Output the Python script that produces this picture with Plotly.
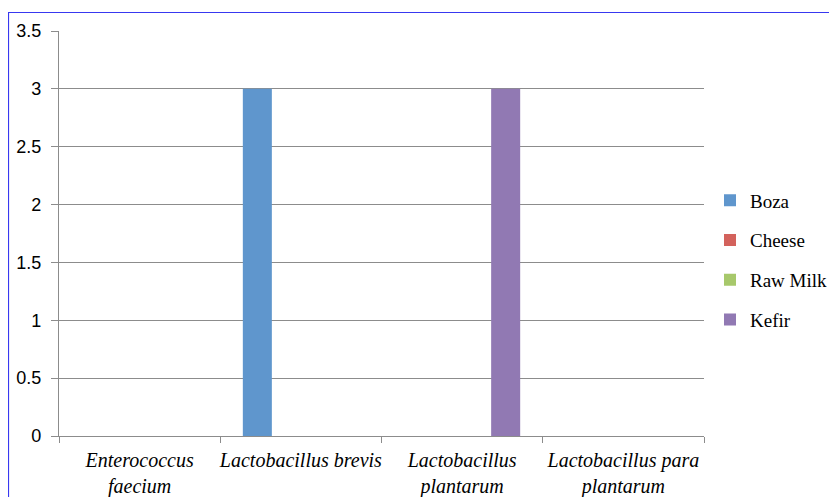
import plotly.graph_objects as go

categories = ["Enterococcus<br>faecium", "Lactobacillus brevis", "Lactobacillus<br>plantarum", "Lactobacillus para<br>plantarum"]
series_names = ["Boza", "Cheese", "Raw Milk", "Kefir"]
boza = [0, 3, 0, 0]
cheese = [0, 0, 0, 0]
raw_milk = [0, 0, 0, 0]
kefir = [0, 0, 3, 0]
colors = ["#5F96CD", "#D3625C", "#A7C86B", "#9179B3"]

OFF = 8  # page body margin
W, H = 837 - OFF, 497 - OFF
L, T = 59 - OFF, 31 - OFF
R = W - (704 - OFF)
B = H - (436 - OFF)
pw, ph = W - L - R, H - T - B

fig = go.Figure()
for name, vals, col in zip(series_names, [boza, cheese, raw_milk, kefir], colors):
    fig.add_trace(go.Bar(x=categories, y=vals, name=name, marker_color=col,
                         marker_line_width=0, legendgroup=name))

def px_x(x):
    return (x - OFF - L) / pw

def px_y(y):
    return 1 - (y - OFF - T) / ph

fig.add_shape(type="rect", xref="paper", yref="paper",
              x0=px_x(8.5), x1=px_x(845), y0=px_y(12.5), y1=px_y(505),
              line=dict(color="#3838F0", width=1.2), fillcolor="rgba(0,0,0,0)", layer="below")

fig.update_layout(
    width=W, height=H,
    margin=dict(l=L, r=R, t=T, b=B, pad=0, autoexpand=False),
    paper_bgcolor="white", plot_bgcolor="white",
    barmode="group", bargap=0.28, bargroupgap=0,
    showlegend=True,
    legend=dict(x=px_x(710), xanchor="left", y=px_y(260), yanchor="middle",
                font=dict(family="Liberation Serif", size=19, color="black"),
                tracegroupgap=12, itemsizing="constant", traceorder="grouped",
                bgcolor="rgba(0,0,0,0)"),
    xaxis=dict(showgrid=False, showline=True, linecolor="#8C8C8C", linewidth=1.2,
               ticks="outside", tickson="boundaries", ticklen=6, tickcolor="#8C8C8C",
               tickfont=dict(family="Liberation Serif", size=20, color="black", style="italic"),
               tickangle=0, automargin=False, ticklabelstandoff=6,
               range=[-0.5, 3.5]),
    yaxis=dict(range=[0, 3.5], dtick=0.5, tick0=0, showgrid=True, gridcolor="#8C8C8C",
               gridwidth=1, showline=True, linecolor="#8C8C8C", linewidth=1.2,
               ticks="outside", ticklen=7, tickcolor="#8C8C8C", zeroline=False,
               tickfont=dict(family="Liberation Sans", size=18, color="black"),
               ticklabelstandoff=6, automargin=False),
)

fig.write_html("out.html")
